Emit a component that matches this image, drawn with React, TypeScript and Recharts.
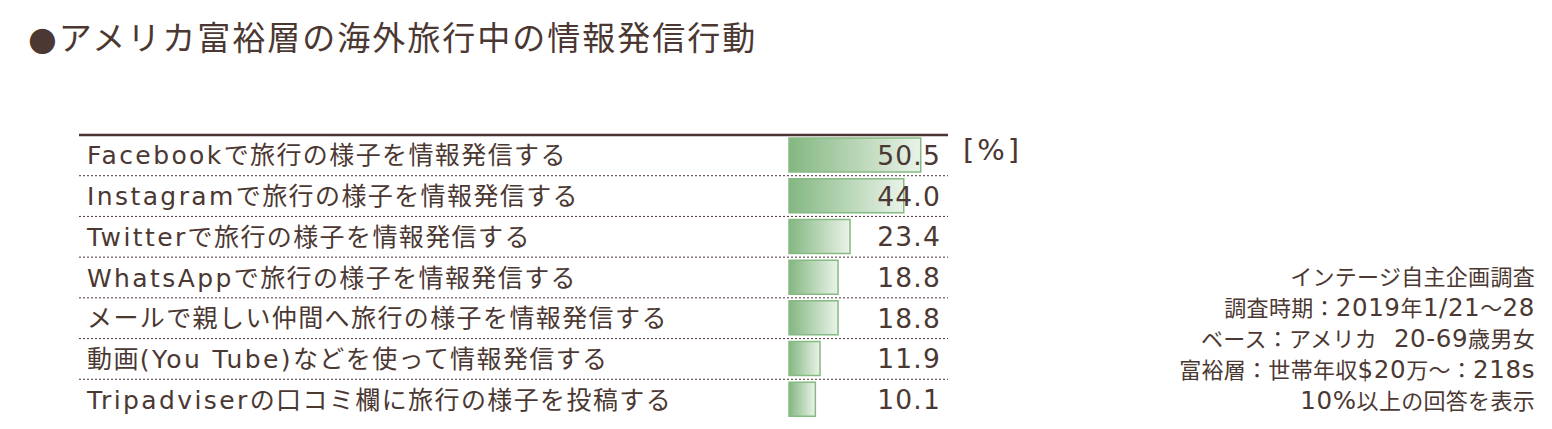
import React from 'react';
import { BarChart, Bar, XAxis, YAxis, LabelList } from 'recharts';

const categories = [
  'Facebookで旅行の様子を情報発信する',
  'Instagramで旅行の様子を情報発信する',
  'Twitterで旅行の様子を情報発信する',
  'WhatsAppで旅行の様子を情報発信する',
  'メールで親しい仲間へ旅行の様子を情報発信する',
  '動画(You Tube)などを使って情報発信する',
  'Tripadviserの口コミ欄に旅行の様子を投稿する',
];
const values = [50.5, 44.0, 23.4, 18.8, 18.8, 11.9, 10.1];
const notes = [
  'インテージ自主企画調査',
  '調査時期：2019年1/21～28',
  'ベース：アメリカ  20-69歳男女',
  '富裕層：世帯年収$20万～：218s',
  '10%以上の回答を表示',
];
const title = '●アメリカ富裕層の海外旅行中の情報発信行動';
const unit = '[%]';

const data = categories.map((name, i) => ({ name, value: values[i] }));

const TEXT = '#4b3832';
const LINE = '#4a3530';
const FONT = "'DejaVu Sans', 'Noto Sans CJK JP', sans-serif";
const BAND = 285 / categories.length;

// split a string into runs of ascii / non-ascii so latin can get its own spacing
const splitRuns = (s: string) => {
  const runs: { latin: boolean; s: string }[] = [];
  for (const ch of s) {
    const latin = ch.charCodeAt(0) < 128;
    const last = runs[runs.length - 1];
    if (last && last.latin === latin) last.s += ch;
    else runs.push({ latin, s: ch });
  }
  return runs;
};

function RowTick(props: any) {
  const { y, payload, index } = props;
  return (
    <g>
      {index === 0 && (
        <line x1={79} x2={948} y1={y - BAND / 2} y2={y - BAND / 2} stroke={LINE} strokeWidth={2.5} />
      )}
      {index < categories.length - 1 && (
        <line
          x1={79}
          x2={948}
          y1={y + BAND / 2}
          y2={y + BAND / 2}
          stroke={LINE}
          strokeWidth={1}
          strokeDasharray="2 2"
        />
      )}
      <text x={87} y={y} dy="0.36em" fill={TEXT} fontSize={25} fontFamily={FONT}>
        {splitRuns(payload.value).map((r, i) => (
          <tspan key={i} letterSpacing={r.latin ? 2.4 : 1.4}>
            {r.s}
          </tspan>
        ))}
      </text>
    </g>
  );
}

function ValueLabel(props: any) {
  const { y, height, value } = props;
  return (
    <text
      x={941}
      y={y + height / 2}
      dy="0.37em"
      textAnchor="end"
      fill={TEXT}
      fontSize={26.5}
      fontFamily={FONT}
      letterSpacing={1.2}
    >
      {Number(value).toFixed(1)}
    </text>
  );
}

export default function App() {
  return (
    <div style={{ position: 'absolute', left: 0, top: 0, width: 1552, height: 429, background: '#fff', fontFamily: FONT, color: TEXT }}>
      <div style={{ position: 'absolute', left: 28, top: 15, fontSize: 33, letterSpacing: 2, whiteSpace: 'nowrap', lineHeight: '48px' }}>
        {title}
      </div>
      <div style={{ position: 'absolute', left: 963, top: 131, fontSize: 29, lineHeight: '38px', letterSpacing: 3 }}>{unit}</div>
      <div style={{ position: 'absolute', right: 17, top: 263, textAlign: 'right', fontSize: 22, lineHeight: '30px', whiteSpace: 'pre' }}>
        {notes.map((n) => (
          <div key={n}>
            {splitRuns(n).map((r, i) => (
              <span key={i} style={r.latin ? { fontSize: 24.5, letterSpacing: 0.6 } : { letterSpacing: 0.3 }}>
                {r.s}
              </span>
            ))}
          </div>
        ))}
      </div>
      <div style={{ position: 'absolute', left: 0, top: 0 }}>
        <BarChart
          width={1552}
          height={429}
          data={data}
          layout="vertical"
          margin={{ top: 135, right: 606.5, bottom: 9, left: 0 }}
        >
          <defs>
            <linearGradient id="barGrad" x1="0" y1="0" x2="1" y2="0">
              <stop offset="0%" stopColor="#84b781" />
              <stop offset="100%" stopColor="#eaf3e9" />
            </linearGradient>
          </defs>
          <XAxis type="number" domain={[0, 60]} hide />
          <YAxis
            type="category"
            dataKey="name"
            width={789}
            axisLine={false}
            tickLine={false}
            interval={0}
            tick={<RowTick />}
          />
          <Bar
            dataKey="value"
            barSize={34}
            fill="url(#barGrad)"
            stroke="#86ba83"
            strokeWidth={1.5}
            isAnimationActive={false}
          >
            <LabelList dataKey="value" content={<ValueLabel />} />
          </Bar>
        </BarChart>
      </div>
    </div>
  );
}
